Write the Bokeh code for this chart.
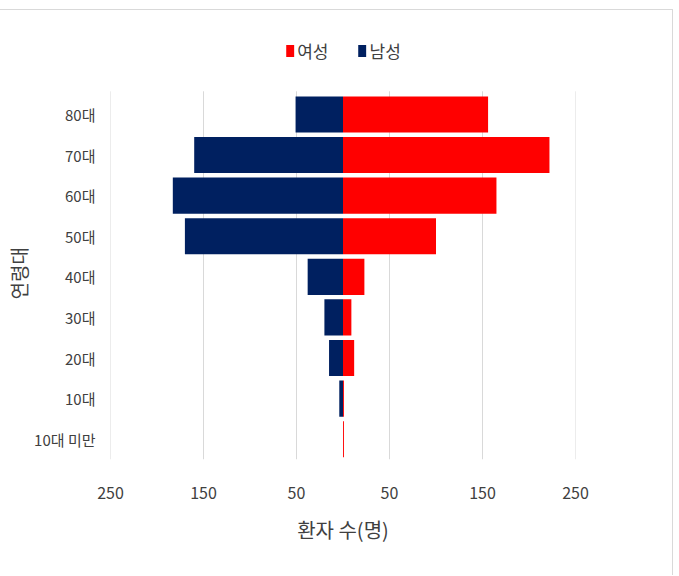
from bokeh.plotting import figure
from bokeh.models import Range1d, FixedTicker, CustomJSTickFormatter, Legend, LegendItem, Title
from bokeh.embed import file_html
from bokeh.resources import INLINE

ages = ["10대 미만", "10대", "20대", "30대", "40대", "50대", "60대", "70대", "80대"]
female = [1, 1, 12, 9, 23, 100, 165, 222, 156]
male = [0, 4, 15, 20, 38, 170, 183, 160, 51]
x_ticks = [-250, -150, -50, 50, 150, 250]

FONT = "Noto Sans CJK KR"
TXT = "#404040"

ypos = list(range(len(ages)))
n = len(ages)

p = figure(width=673, height=566, y_range=Range1d(-0.5, n - 0.5 + 1.568),
           x_range=Range1d(-250, 250), output_backend="svg", toolbar_location=None,
           min_border_left=110, min_border_right=98, min_border_top=20, min_border_bottom=117)
p.styles = {"border-top": "1px solid #d9d9d9", "border-right": "1px solid #d9d9d9",
            "margin-top": "9px"}
p.outline_line_color = None
p.xgrid.grid_line_color = None
p.ygrid.grid_line_color = None

# vertical grid lines limited to the category band
p.segment(x0=x_ticks, x1=x_ticks, y0=[-0.5] * len(x_ticks), y1=[n - 0.43] * len(x_ticks),
          line_color="#d9d9d9", line_width=1)

male_neg = [-v for v in male]
r_m = p.hbar(y=ypos, left=male_neg, right=0, height=0.89, fill_color="#002060", line_color=None)
r_f = p.hbar(y=ypos, left=0, right=female, height=0.89, fill_color="#FF0000", line_color=None)

p.xaxis.ticker = FixedTicker(ticks=x_ticks)
p.xaxis.formatter = CustomJSTickFormatter(code="return String(Math.abs(tick));")
p.yaxis.ticker = FixedTicker(ticks=ypos)
p.yaxis.major_label_overrides = {i: a for i, a in zip(ypos, ages)}

for ax in (p.xaxis[0], p.yaxis[0]):
    ax.axis_line_color = None
    ax.major_tick_line_color = None
    ax.minor_tick_line_color = None
    ax.major_label_text_font = FONT
    ax.major_label_text_color = TXT
    ax.axis_label_text_font = FONT
    ax.axis_label_text_color = TXT
    ax.axis_label_text_font_size = "20px"
    ax.axis_label_text_font_style = "normal"

p.xaxis.major_label_text_font_size = "16px"
p.yaxis.major_label_text_font_size = "15px"
p.xaxis.axis_label = "환자 수(명)"
p.xaxis.major_label_standoff = 21
p.xaxis.axis_label_standoff = 13
p.yaxis.major_tick_out = 0
p.yaxis.major_tick_in = 0
p.yaxis.major_label_standoff = 15

ytitle = Title(text="연령대", align="left", offset=160, text_font=FONT,
               text_font_size="19px", text_color=TXT, text_font_style="normal",
               standoff=0)
p.add_layout(ytitle, "left")

legend = Legend(items=[LegendItem(label="여성", renderers=[r_f]),
                       LegendItem(label="남성", renderers=[r_m])],
                orientation="horizontal", location="top_center")
legend.label_text_font = FONT
legend.label_text_font_size = "17px"
legend.label_text_color = TXT
legend.glyph_width = 10
legend.glyph_height = 15
legend.label_standoff = 3
legend.spacing = 28
legend.border_line_color = None
legend.background_fill_alpha = 0
legend.margin = 8
legend.padding = 0
legend.label_height = 20
p.add_layout(legend, "center")

open("out.html", "w").write(file_html(p, INLINE))
